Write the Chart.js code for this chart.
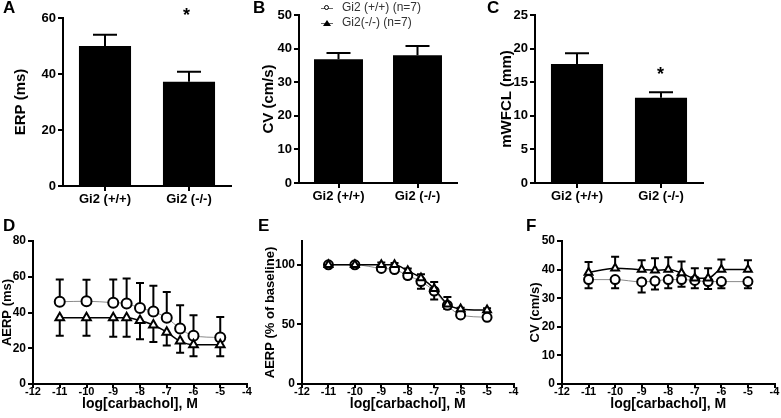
<!DOCTYPE html>
<html>
<head>
<meta charset="utf-8">
<script src="https://cdn.jsdelivr.net/npm/chart.js@4/dist/chart.umd.min.js"></script>
<style>
  body { margin: 0; background: #fff; font-family: "Liberation Sans", Arial, sans-serif; }
  #fig { position: relative; width: 781px; height: 418px; overflow: hidden; }
  .panel { position: absolute; }
  .lbl { position: absolute; font-weight: bold; color: #000; }
  .letter { font-size: 17px; }
  .star { font-size: 18px; }
  .leg { position: absolute; font-size: 12px; color: #333; white-space: nowrap; }
  .mk { display: inline-block; position: relative; width: 12px; height: 8px; vertical-align: middle; margin-right: 9px; }
  .mk:before { content: ""; position: absolute; left: 0; right: 0; top: 4px; border-top: 1px solid #666; }
  .mk .c { position: absolute; left: 3px; top: 1px; width: 3px; height: 3px; border: 1.5px solid #000; border-radius: 50%; background: #fff; }
  .mk .t { position: absolute; left: 2px; top: 1px; width: 0; height: 0; border-left: 4px solid transparent; border-right: 4px solid transparent; border-bottom: 6px solid #000; }
</style>
</head>
<body>
<div id="fig">
  <div class="panel" style="left:0;top:0;width:240px;height:210px"><canvas id="cA"></canvas></div>
  <div class="panel" style="left:240px;top:0;width:225px;height:210px"><canvas id="cB"></canvas></div>
  <div class="panel" style="left:470px;top:0;width:240px;height:210px"><canvas id="cC"></canvas></div>
  <div class="panel" style="left:0;top:210px;width:255px;height:208px"><canvas id="cD"></canvas></div>
  <div class="panel" style="left:255px;top:210px;width:265px;height:208px"><canvas id="cE"></canvas></div>
  <div class="panel" style="left:520px;top:210px;width:261px;height:208px"><canvas id="cF"></canvas></div>

  <div class="lbl letter" style="left:3px;top:-2px">A</div>
  <div class="lbl letter" style="left:253px;top:-2px">B</div>
  <div class="lbl letter" style="left:487px;top:-2px">C</div>
  <div class="lbl letter" style="left:3px;top:216px">D</div>
  <div class="lbl letter" style="left:258px;top:216px">E</div>
  <div class="lbl letter" style="left:526px;top:216px">F</div>

  <div class="lbl star" style="left:183px;top:5px">*</div>
  <div class="lbl star" style="left:657px;top:64px">*</div>

  <div class="leg" style="left:321px;top:0px"><span class="mk"><span class="c"></span></span>Gi2 (+/+) (n=7)</div>
  <div class="leg" style="left:321px;top:15px"><span class="mk"><span class="t"></span></span>Gi2(-/-) (n=7)</div>
</div>
<script>
// groups for the bar panels
const groups = ['Gi2 (+/+)', 'Gi2 (-/-)'];
const erpMean = [50, 37.2];
const erpErr = [4, 3.6];
const cvMean = [36.8, 38];
const cvErr = [1.9, 2.8];
const wfclMean = [17.7, 12.7];
const wfclErr = [1.6, 0.8];

// carbachol concentrations, log M
const logCarb = [-11, -10, -9, -8.5, -8, -7.5, -7, -6.5, -6, -5];

// D: AERP (ms)
const aerpWT = [46, 46.3, 45.5, 45, 42.5, 40.5, 37, 31, 27, 26];
const aerpWTErr = [12.5, 12, 13, 14, 14, 14.5, 14.5, 13, 11.5, 11.5];
const aerpKO = [37, 37, 37, 37, 35.5, 33, 29, 24, 22, 22];
const aerpKOErr = [10, 10, 10.5, 10.5, 10.5, 9.5, 7.5, 6.5, 6.5, 6.5];

// E: AERP (% of baseline)
const pctWT = [100, 100, 97, 96, 91, 86, 78, 66, 58, 56];
const pctWTErr = [1, 1, 1.5, 2, 2.5, 6, 7, 3, 2, 1];
const pctKO = [100, 100, 100, 100, 95, 89, 80, 67, 63, 62];
const pctKOErr = [1, 1, 2, 1.5, 2, 3, 5.5, 6, 1, 1.5];

// F: CV (cm/s)
const cvWT = [36.5, 36.5, 35.7, 36, 36.5, 36.5, 36.2, 35.8, 35.8, 35.8];
const cvWTErr = [3, 3, 3.7, 3, 3, 2.5, 2.7, 2.6, 2.3, 2.3];
const cvKO = [39, 40.5, 40, 39.8, 40, 38.8, 37, 37, 40, 40];
const cvKOErr = [3.7, 4, 3.3, 4.2, 4.3, 4, 3.5, 3.5, 3.5, 3.3];

Chart.defaults.font.family = '"Liberation Sans", Arial, sans-serif';
Chart.defaults.font.weight = 'bold';
Chart.defaults.color = '#000';
Chart.defaults.animation = false;
Chart.defaults.plugins.legend.display = false;
Chart.defaults.plugins.tooltip.enabled = false;

// error bars, drawn under the markers
const errorBars = {
  id: 'errorBars',
  beforeDatasetsDraw(chart) {
    const ctx = chart.ctx;
    const ys = chart.scales.y;
    chart.data.datasets.forEach((ds, i) => {
      if (!ds.errors) return;
      const meta = chart.getDatasetMeta(i);
      meta.data.forEach((el, j) => {
        const raw = ds.data[j];
        const v = typeof raw === 'object' ? raw.y : raw;
        const yEnd = ys.getPixelForValue(v + ds.errDir * ds.errors[j]);
        const y0 = ys.getPixelForValue(v);
        ctx.save();
        ctx.strokeStyle = '#000';
        ctx.lineWidth = 2;
        ctx.beginPath();
        ctx.moveTo(el.x, y0);
        ctx.lineTo(el.x, yEnd);
        ctx.moveTo(el.x - ds.capW, yEnd);
        ctx.lineTo(el.x + ds.capW, yEnd);
        ctx.stroke();
        ctx.restore();
      });
    });
  }
};

function yAxis(min, max, step, title, width, opts) {
  opts = opts || {};
  return {
    min: min, max: max,
    afterFit: s => { s.width = width; },
    afterBuildTicks: opts.only ? (s => { s.ticks = s.ticks.filter(t => opts.only.includes(t.value)); }) : undefined,
    ticks: { stepSize: step, font: { size: opts.tickSize || 13, weight: 'bold' }, color: '#000', padding: 2 },
    grid: { drawOnChartArea: false, drawTicks: true, tickLength: 5, color: '#000', lineWidth: 2 },
    border: { color: '#000', width: 2 },
    title: { display: true, text: title, font: { size: opts.titleSize || 15, weight: 'bold' }, color: '#000', padding: { top: 0, bottom: 2 } }
  };
}

function catAxis(height) {
  return {
    afterFit: s => { s.height = height; },
    ticks: { font: { size: 13, weight: 'bold' }, color: '#000', padding: 1 },
    grid: { offset: false, drawOnChartArea: false, drawTicks: true, tickLength: 5, color: '#000', lineWidth: 2 },
    border: { color: '#000', width: 2 }
  };
}

function logAxis(height) {
  return {
    type: 'linear', min: -12, max: -4,
    afterFit: s => { s.height = height; },
    ticks: { stepSize: 1, font: { size: 11, weight: 'bold' }, color: '#000', padding: -3 },
    grid: { drawOnChartArea: false, drawTicks: true, tickLength: 4, color: '#000', lineWidth: 2 },
    border: { color: '#000', width: 2 },
    title: { display: true, text: 'log[carbachol], M', font: { size: 14, weight: 'bold' }, color: '#000', padding: { top: 0, bottom: 0 } }
  };
}

function barChart(id, means, errs, yMin, yMax, step, title, yW, xH, pad) {
  new Chart(document.getElementById(id), {
    type: 'bar',
    data: {
      labels: groups,
      datasets: [{
        data: means, backgroundColor: '#000', borderWidth: 0,
        barPercentage: 0.62, categoryPercentage: 1,
        errors: errs, errDir: 1, capW: 12
      }]
    },
    options: {
      responsive: true, maintainAspectRatio: false,
      layout: { padding: pad },
      scales: { x: catAxis(xH), y: yAxis(yMin, yMax, step, title, yW) }
    },
    plugins: [errorBars]
  });
}

function pts(ys) { return logCarb.map((x, i) => ({ x: x, y: ys[i] })); }

function doseChart(id, wt, wtErr, wtDir, ko, koErr, koDir, yOpts, pad) {
  new Chart(document.getElementById(id), {
    type: 'line',
    data: {
      datasets: [
        {
          data: pts(ko), borderColor: '#000', borderWidth: 1.5, tension: 0.4, cubicInterpolationMode: 'monotone',
          pointStyle: 'triangle', pointRadius: yOpts.r, pointBorderWidth: 2, pointBorderColor: '#000', pointBackgroundColor: '#fff',
          errors: koErr, errDir: koDir, capW: 4
        },
        {
          data: pts(wt), borderColor: '#8a8a8a', borderWidth: 1, tension: 0.4, cubicInterpolationMode: 'monotone',
          pointStyle: 'circle', pointRadius: yOpts.r, pointBorderWidth: 2, pointBorderColor: '#000', pointBackgroundColor: '#fff',
          errors: wtErr, errDir: wtDir, capW: 4
        }
      ]
    },
    options: {
      responsive: true, maintainAspectRatio: false,
      layout: { padding: pad },
      scales: {
        x: logAxis(29),
        y: yAxis(yOpts.min, yOpts.max, yOpts.step, yOpts.title, yOpts.w, { only: yOpts.only, tickSize: 12, titleSize: 13 })
      }
    },
    plugins: [errorBars]
  });
}

barChart('cA', erpMean, erpErr, 0, 60, 20, 'ERP (ms)', 51, 24, { top: 18, right: 9, left: 12 });
barChart('cB', cvMean, cvErr, 0, 50, 10, 'CV (cm/s)', 39, 27, { top: 15, right: 8, left: 20 });
barChart('cC', wfclMean, wfclErr, 0, 25, 5, 'mWFCL (mm)', 37, 27, { top: 15, right: 7, left: 28 });

doseChart('cD', aerpWT, aerpWTErr, 1, aerpKO, aerpKOErr, -1,
  { min: 0, max: 80, step: 20, title: 'AERP (ms)', w: 33, r: 5 }, { top: 31, right: 8, bottom: 5 });
doseChart('cE', pctWT, pctWTErr, -1, pctKO, pctKOErr, 1,
  { min: 0, max: 120, step: 50, title: 'AERP (% of baseline)', w: 39, r: 4.5, only: [0, 50, 100] }, { top: 31, right: 3, left: 8, bottom: 5 });
doseChart('cF', cvWT, cvWTErr, -1, cvKO, cvKOErr, 1,
  { min: 0, max: 50, step: 10, title: 'CV (cm/s)', w: 34, r: 4.5 }, { top: 31, right: 4, left: 8, bottom: 5 });
</script>
</body>
</html>
